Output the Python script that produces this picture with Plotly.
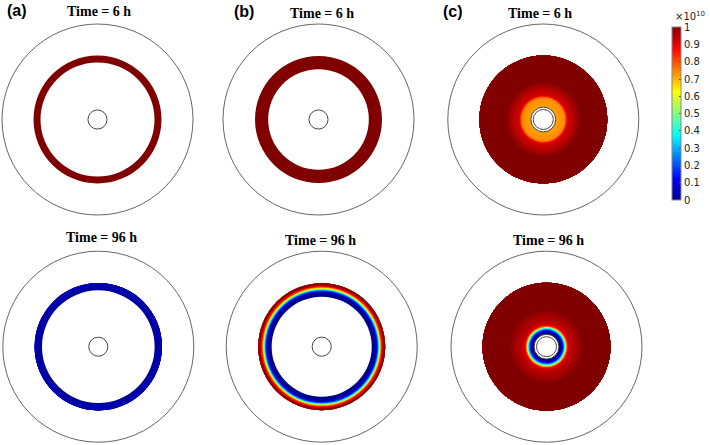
import plotly.graph_objects as go

# ---------------- data ----------------
panel_labels = ["(a)", "(b)", "(c)"]
time_titles = ["Time = 6 h", "Time = 96 h"]
cbar_ticks = [0, 0.1, 0.2, 0.3, 0.4, 0.5, 0.6, 0.7, 0.8, 0.9, 1]
cbar_ticktext = ["0", "0.1", "0.2", "0.3", "0.4", "0.5", "0.6", "0.7", "0.8", "0.9", "1"]
cbar_exponent = "×10<sup>10</sup>"

outer_radius = 10.0          # outer boundary of every domain
small_circle_r = 1.0         # centre circle in (a) and (b)
c_circles_r = [1.05, 1.3]    # the two centre circles in (c)

# radial band edges and values (x 1e10) for each panel
a6_edges = [5.97, 6.70]
a6_vals = [1.0]
b6_edges = [5.27, 6.65]
b6_vals = [1.0]
c6_edges = [1.3, 1.68, 2.09, 2.3, 2.38, 2.46, 2.55, 2.7, 2.85, 3.0, 3.15, 3.3, 3.45, 3.6, 3.75, 3.9, 6.7]
c6_vals = [0.72, 0.73, 0.74, 0.79, 0.85, 0.9, 0.92, 0.93, 0.935, 0.94, 0.95, 0.96, 0.97, 0.98, 0.99, 1.0]

a96_edges = [5.9, 6.0, 6.15, 6.4, 6.67]
a96_vals = [0.005, 0.02, 0.03, 0.035]
b96_edges = [5.24, 5.55, 5.71, 5.81, 5.92, 6.0, 6.07, 6.16, 6.24, 6.34, 6.44, 6.65]
b96_vals = [0.0, 0.02, 0.08, 0.2, 0.36, 0.52, 0.65, 0.77, 0.86, 0.93, 0.99]
c96_edges = [1.3, 1.54, 1.62, 1.71, 1.78, 1.85, 1.92, 1.98, 2.04, 2.1, 2.18, 2.3, 2.45,
             2.6, 2.75, 2.9, 3.05, 3.2, 3.35, 3.5, 3.65, 3.8, 6.7]
c96_vals = [0.0, 0.04, 0.1, 0.18, 0.27, 0.37, 0.47, 0.57, 0.68, 0.8, 0.88, 0.92, 0.935,
            0.945, 0.95, 0.955, 0.96, 0.97, 0.975, 0.98, 0.99, 1.0]

jet = [[0.0, "rgb(0,0,143)"], [0.125, "rgb(0,0,255)"], [0.375, "rgb(0,255,255)"],
       [0.625, "rgb(255,255,0)"], [0.875, "rgb(255,0,0)"], [1.0, "rgb(128,0,0)"]]

# ---------------- layout geometry (pixels) ----------------
W, H = 710, 445
R_PX = 95.5
centers = [  # (cx, cy) in px from top-left
    (97.5, 119.5), (318.5, 119.5), (543.3, 119.5),
    (98.3, 346.7), (321.7, 346.7), (546.5, 346.7),
]
profiles = [(a6_edges, a6_vals), (b6_edges, b6_vals), (c6_edges, c6_vals),
            (a96_edges, a96_vals), (b96_edges, b96_vals), (c96_edges, c96_vals)]

fig = go.Figure()
layout_polars = {}
for i, ((cx, cy), (edges, vals)) in enumerate(zip(centers, profiles)):
    name = "polar" if i == 0 else f"polar{i+1}"
    sub = "polar" if i == 0 else f"polar{i+1}"
    # bands: each band drawn from its inner edge to the outermost edge,
    # later (outer) bands paint over earlier ones -> no seams
    fig.add_trace(go.Barpolar(
        r=[edges[-1] - e for e in edges[:-1]],
        base=edges[:-1],
        theta=[0] * len(vals),
        width=[360] * len(vals),
        marker=dict(color=vals, coloraxis="coloraxis", line=dict(width=0)),
        subplot=sub, showlegend=False, hoverinfo="skip",
    ))
    circles = c_circles_r if i % 3 == 2 else [small_circle_r]
    fig.add_trace(go.Barpolar(
        r=circles, base=[0] * len(circles), theta=[0] * len(circles),
        width=[360] * len(circles),
        marker=dict(color="rgba(0,0,0,0)", line=dict(color="#333", width=0.9)),
        subplot=sub, showlegend=False, hoverinfo="skip",
    ))
    cyb = H - cy
    layout_polars[name] = dict(
        domain=dict(x=[(cx - R_PX) / W, (cx + R_PX) / W],
                    y=[(cyb - R_PX) / H, (cyb + R_PX) / H]),
        bgcolor="white",
        hole=0,
        radialaxis=dict(visible=False, range=[0, outer_radius]),
        angularaxis=dict(showline=True, linecolor="#555", linewidth=0.9,
                         showgrid=False, showticklabels=False, ticks=""),
        barmode="overlay",
    )

annotations = []
title_pos = [(99, 11), (321.5, 14), (539.5, 14), (101.3, 237.5), (320.8, 240.5), (548, 240)]
for i, (x, y) in enumerate(title_pos):
    annotations.append(dict(
        text=f"<b>{time_titles[i // 3]}</b>", x=x / W, y=1 - y / H, xref="paper", yref="paper",
        xanchor="center", yanchor="middle", showarrow=False,
        font=dict(family="Liberation Serif", size=14, color="black")))
label_pos = [(16.5, 10), (243.5, 11), (453, 11)]
for lab, (x, y) in zip(panel_labels, label_pos):
    annotations.append(dict(
        text=f"<b>{lab}</b>", x=x / W, y=1 - y / H, xref="paper", yref="paper",
        xanchor="center", yanchor="middle", showarrow=False,
        font=dict(family="Liberation Sans", size=16, color="black")))
annotations.append(dict(
    text=cbar_exponent, x=673 / W, y=1 - 16 / H, xref="paper", yref="paper",
    xanchor="left", yanchor="middle", showarrow=False,
    font=dict(family="DejaVu Sans", size=10, color="#222")))

fig.update_layout(
    width=W, height=H,
    margin=dict(l=0, r=0, t=0, b=0),
    paper_bgcolor="white", plot_bgcolor="white",
    coloraxis=dict(
        colorscale=jet, cmin=0, cmax=1,
        colorbar=dict(
            x=672 / W, xanchor="left", xpad=0,
            y=1 - 113.6 / H, yanchor="middle", ypad=0,
            len=173 / H, lenmode="fraction",
            thickness=9, thicknessmode="pixels",
            outlinewidth=1, outlinecolor="#888",
            tickvals=cbar_ticks, ticktext=cbar_ticktext,
            ticks="inside", ticklen=2, tickcolor="#555",
            tickfont=dict(family="DejaVu Sans", size=10, color="#222"),
        ),
    ),
    annotations=annotations,
    **layout_polars,
)

fig.write_html(
    "out.html",
    config={"displayModeBar": False, "staticPlot": True},
    post_script="document.body.style.margin='0px';document.body.style.overflow='hidden';",
)
